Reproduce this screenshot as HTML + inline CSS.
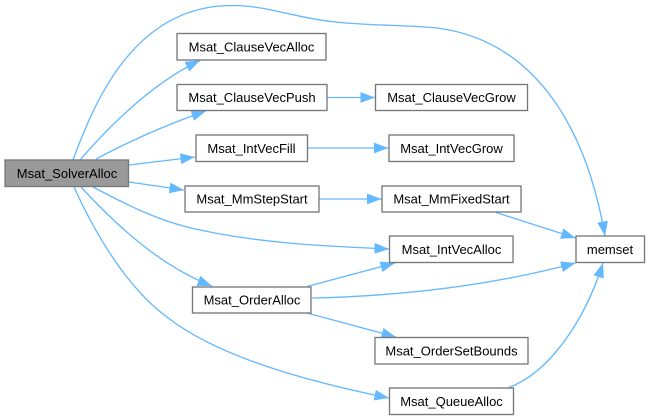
<!DOCTYPE html>
<html><head><meta charset="utf-8"><style>html,body{margin:0;padding:0;background:#fff}svg{display:block}text{font-family:"Liberation Sans",Arial,sans-serif;font-size:13px;fill:#000;text-anchor:middle}rect{stroke:#787878;stroke-width:1.33;fill:#fff}path{fill:none;stroke:#63b8ff;stroke-width:1.33;marker-end:url(#a)}</style></head>
<body><svg width="650" height="420" viewBox="0 0 650 420" xmlns="http://www.w3.org/2000/svg">
<defs><marker id="a" markerUnits="userSpaceOnUse" markerWidth="15" markerHeight="12" viewBox="0 0 15 12" refX="14.500" refY="6" orient="auto"><polygon points="0,0.6 14.500,6 0,11.400" fill="#63b8ff"/></marker></defs>
<path d="M73 160C95 100 135 5.500 232 5.500C268 5.500 295 18 335 22C375 26 410 25 437 28C530 40 585 120 605 236"/>
<path d="M80 160C106 130 150 84 200 60.500"/>
<path d="M96 159C130 141 165 125 206 111"/>
<path d="M129 165L195 157"/>
<path d="M129 182L184 190"/>
<path d="M93 187C125 204 160 222 200 230C260 243 320 246 389 249"/>
<path d="M81 187C115 224 160 266 212 286"/>
<path d="M74 187C98 240 130 290 167 317C215 355 300 380 389 398"/>
<path d="M327.500 97.500L375 97.500"/>
<path d="M308 148L388.500 148"/>
<path d="M319 199L381.500 199"/>
<path d="M496 212.500L575.500 238"/>
<path d="M307 286.500L395 263"/>
<path d="M312 298C400 296 490 286 575.500 263"/>
<path d="M307 313L396 337"/>
<path d="M509 387.500C550 372 585 320 603 263"/>
<rect x="5" y="160" width="123.500" height="26.500" style="fill:#999"/><text x="67" y="178">Msat_SolverAlloc</text>
<rect x="177" y="33.500" width="149" height="26.500"/><text x="251.500" y="51.500">Msat_ClauseVecAlloc</text>
<rect x="177" y="84.500" width="150" height="26"/><text x="252" y="102">Msat_ClauseVecPush</text>
<rect x="196" y="135" width="111.500" height="26.500"/><text x="251.500" y="153">Msat_IntVecFill</text>
<rect x="185" y="186" width="134" height="26"/><text x="252" y="203.500">Msat_MmStepStart</text>
<rect x="375.500" y="84.500" width="152" height="26"/><text x="451.500" y="102">Msat_ClauseVecGrow</text>
<rect x="389" y="135" width="125" height="26.500"/><text x="451.500" y="153">Msat_IntVecGrow</text>
<rect x="382" y="186" width="139" height="26"/><text x="451.500" y="203.500">Msat_MmFixedStart</text>
<rect x="389.500" y="236" width="123.500" height="26.500"/><text x="451.500" y="254">Msat_IntVecAlloc</text>
<rect x="576" y="236" width="68.500" height="26.500"/><text x="610" y="254">memset</text>
<rect x="192.500" y="287" width="118.500" height="26"/><text x="252" y="304.500">Msat_OrderAlloc</text>
<rect x="375" y="337.500" width="153" height="26.500"/><text x="451.500" y="355.500">Msat_OrderSetBounds</text>
<rect x="389.500" y="388" width="124" height="26.500"/><text x="451.500" y="406">Msat_QueueAlloc</text>
</svg></body></html>
